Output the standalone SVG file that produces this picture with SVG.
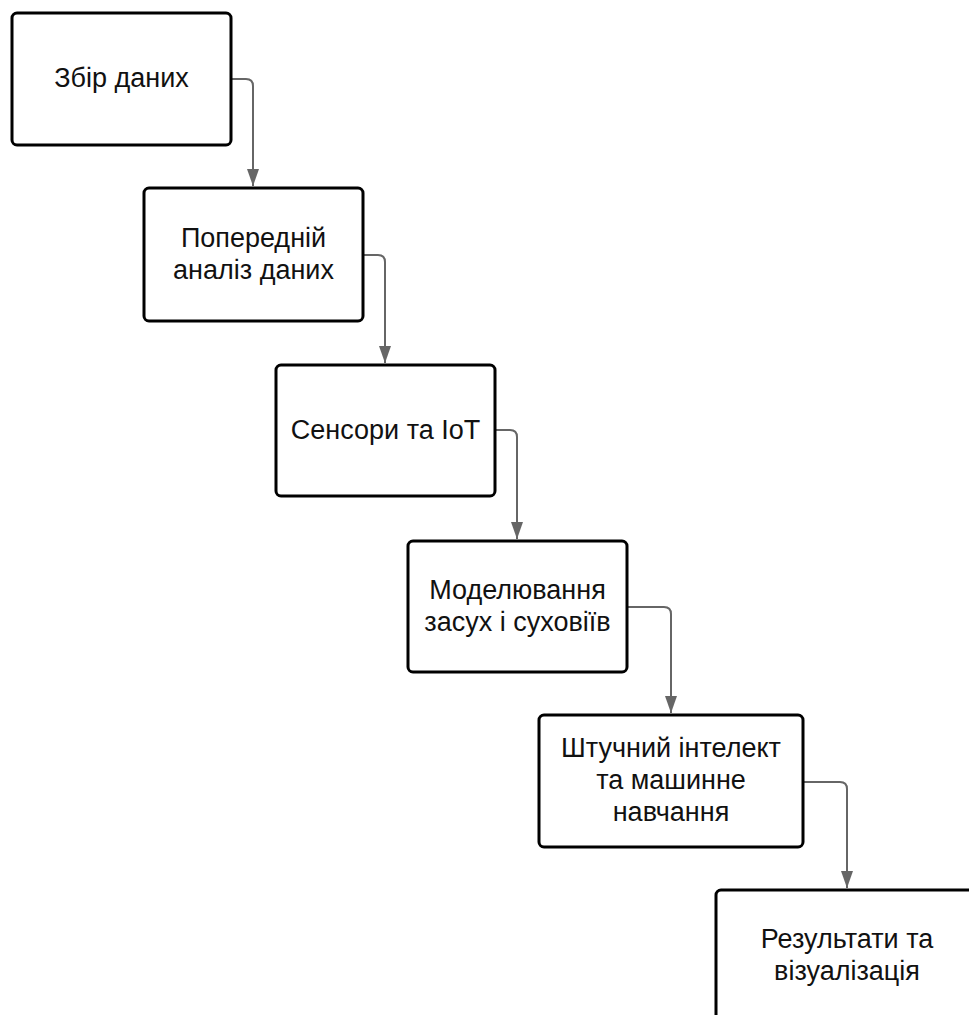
<svg xmlns="http://www.w3.org/2000/svg" width="969" height="1015" viewBox="0 0 969 1015">
<style>
.box{fill:#fff;stroke:#000;stroke-width:3}
.lbl{font-family:"Liberation Sans",Arial,sans-serif;font-size:27px;fill:#111;text-anchor:middle}
.conn{fill:none;stroke:#666;stroke-width:2}
</style>
<defs>
<marker id="arr" markerUnits="userSpaceOnUse" markerWidth="17" markerHeight="13" refX="17" refY="6.5" orient="auto">
<path d="M0,0.5 L17,6.5 L0,12.5 z" fill="#666"/>
</marker>
</defs>
<rect width="969" height="1015" fill="#fff"/>
<g id="connectors">
<path class="conn" d="M232,79 H246 Q253,79 253,86 V186" marker-end="url(#arr)"/>
<path class="conn" d="M364,255 H378 Q385,255 385,262 V363" marker-end="url(#arr)"/>
<path class="conn" d="M496,430 H510 Q517,430 517,437 V539" marker-end="url(#arr)"/>
<path class="conn" d="M628,607 H664 Q671,607 671,614 V713" marker-end="url(#arr)"/>
<path class="conn" d="M804,782 H840 Q847,782 847,789 V888" marker-end="url(#arr)"/>
</g>
<g id="n1">
<rect class="box" x="12" y="13" width="219" height="132" rx="5"/>
<text class="lbl" x="121.5" y="87">Збір даних</text>
</g>
<g id="n2">
<rect class="box" x="144" y="188" width="219" height="133" rx="5"/>
<text class="lbl" x="253.5" y="246.5">Попередній</text>
<text class="lbl" x="253.5" y="278.5">аналіз даних</text>
</g>
<g id="n3">
<rect class="box" x="276" y="365" width="219" height="131" rx="5"/>
<text class="lbl" x="385.5" y="438.5">Сенсори та IoT</text>
</g>
<g id="n4">
<rect class="box" x="408" y="541" width="219" height="131" rx="5"/>
<text class="lbl" x="517.5" y="598.5">Моделювання</text>
<text class="lbl" x="517.5" y="630.5">засух і суховіїв</text>
</g>
<g id="n5">
<rect class="box" x="539" y="715" width="264" height="132" rx="5"/>
<text class="lbl" x="671" y="757">Штучний інтелект</text>
<text class="lbl" x="671" y="789">та машинне</text>
<text class="lbl" x="671" y="821">навчання</text>
</g>
<g id="n6">
<rect class="box" x="716" y="890" width="262" height="133" rx="5"/>
<text class="lbl" x="847" y="947.5">Результати та</text>
<text class="lbl" x="847" y="979.5">візуалізація</text>
</g>
</svg>
